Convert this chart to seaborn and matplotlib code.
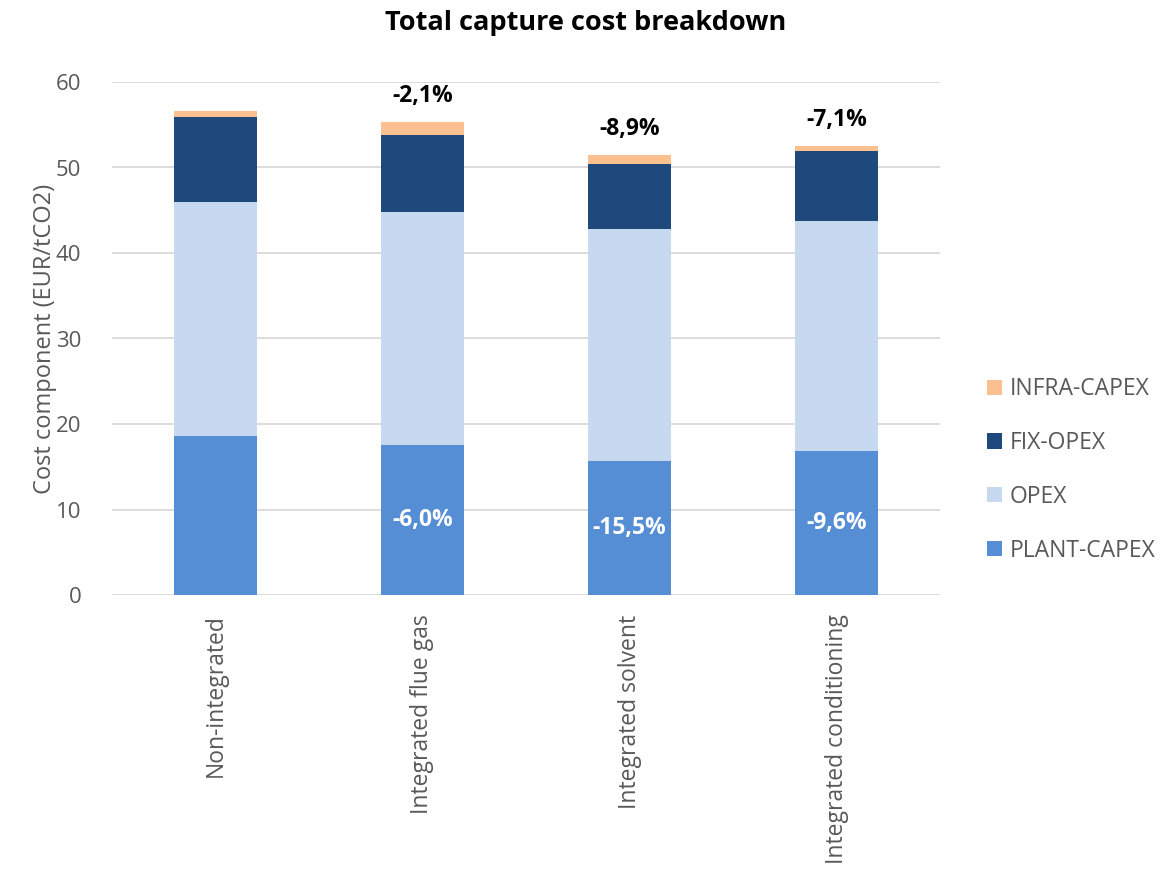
import matplotlib
matplotlib.use("Agg")
import matplotlib.pyplot as plt
import seaborn as sns
import numpy as np
import pandas as pd
from matplotlib.patches import Patch

categories = ["Non-integrated", "Integrated flue gas", "Integrated solvent", "Integrated conditioning"]
plant_capex = [18.6, 17.5, 15.7, 16.8]
opex = [27.4, 27.3, 27.1, 26.9]
fix_opex = [9.85, 8.95, 7.65, 8.2]
infra_capex = [0.7, 1.6, 1.0, 0.6]
total_change = ["", "-2,1%", "-8,9%", "-7,1%"]
plant_change = ["", "-6,0%", "-15,5%", "-9,6%"]

series_names = ["PLANT-CAPEX", "OPEX", "FIX-OPEX", "INFRA-CAPEX"]
series_vals = [plant_capex, opex, fix_opex, infra_capex]
colors = ["#558ED5", "#C6D9F1", "#1F497D", "#FAC090"]

sns.set_theme(style="white")
plt.rcParams['font.family'] = ['Open Sans', 'DejaVu Sans']

fig = plt.figure(figsize=(11.71, 8.72), dpi=100)
ax = fig.add_axes([112/1171, 1 - 595/872, 828/1171, 513/872])

bottom = np.zeros(len(categories))
for name, vals, col in zip(series_names, series_vals, colors):
    df = pd.DataFrame({"cat": categories, "val": vals})
    sns.barplot(data=df, x="cat", y="val", order=categories, color=col,
                bottom=bottom, width=0.4, ax=ax, linewidth=0, saturation=1)
    bottom = bottom + np.array(vals)

totals = bottom
for i in range(len(categories)):
    if total_change[i]:
        ax.text(i, totals[i] + 3.0, total_change[i], ha="center", va="center",
                fontsize=16.5, fontweight="bold", color="black")
    if plant_change[i]:
        ax.text(i, plant_capex[i] / 2, plant_change[i], ha="center", va="center",
                fontsize=16.5, fontweight="bold", color="white")

ax.set_ylim(0, 60)
ax.set_xlim(-0.5, 3.5)
ax.set_yticks(range(0, 61, 10))
ax.yaxis.grid(True, color="#D9D9D9", linewidth=1.3)
ax.set_axisbelow(True)
for s in ax.spines.values():
    s.set_visible(False)
ax.tick_params(axis="y", labelsize=16, labelcolor="#595959", length=0, pad=22)
ax.tick_params(axis="x", labelsize=16.5, labelcolor="#595959", length=0, pad=14)
ax.set_xticks(range(len(categories)))
ax.set_xticklabels(categories, rotation=90, ha="center", va="top")
ax.set_xlabel("")
ax.set_ylabel("Cost component (EUR/tCO2)", fontsize=17, color="#595959")
ax.yaxis.set_label_coords(-0.066, 0.5)

fig.suptitle("Total capture cost breakdown", x=0.5, y=0.988, fontsize=19.5,
             fontweight="bold", color="black")

handles = [Patch(facecolor=c, edgecolor="none") for c in colors][::-1]
labels = series_names[::-1]
leg = fig.legend(handles, labels, loc="center left", bbox_to_anchor=(987/1171, 1 - 470/872),
                 frameon=False, fontsize=16.5, handlelength=0.65, handleheight=0.65,
                 handletextpad=0.35, labelspacing=1.3, labelcolor="#595959",
                 borderaxespad=0, borderpad=0)

fig.savefig("out.png", dpi=100)
